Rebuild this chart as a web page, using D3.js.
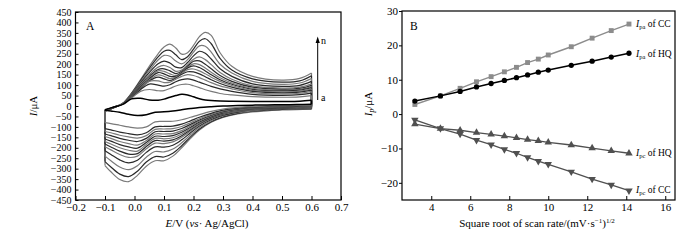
<!DOCTYPE html>
<html>
<head>
<meta charset="utf-8">
<script src="https://cdn.jsdelivr.net/npm/d3@7"></script>
<style>
  body { margin: 0; background: #fff; }
  text { font-family: "Liberation Serif", "Times New Roman", serif; fill: #000; }
</style>
</head>
<body>
<svg id="chart" width="700" height="240"></svg>
<script>
// ---------- data: panel A (cyclic voltammograms a..n) ----------
var curveNames = ["a","b","c","d","e","f","g","h","i","j","k","l","m","n"];

// potentials (V) of the forward (anodic) sweep
var anodicE = [-0.1, -0.07, -0.04, -0.01, 0.02, 0.05, 0.08, 0.1, 0.12, 0.14, 0.16, 0.18, 0.2, 0.22, 0.24, 0.26, 0.29, 0.33, 0.4, 0.5, 0.56, 0.6];
// current (uA) for each curve on the anodic sweep
var anodicI = [
  [-18, -5,  8, 34,  37,  29,  28,  33,  42,  50,  56,  53,  44,  35,  29,  26,  24,  23,  22,  22,  23,  27],
  [-19, -5, 10, 38,  70,  79,  73,  74,  84,  96, 103, 104,  97,  88,  78,  70,  60,  53,  45,  42,  44,  50],
  [-20, -5, 10, 40,  78, 105, 100,  95, 102, 116, 126, 130, 124, 114, 104,  94,  82,  70,  56,  51,  54,  62],
  [-20, -5, 10, 42,  80, 118, 120, 112, 114, 128, 142, 150, 146, 136, 124, 112,  96,  82,  64,  58,  61,  70],
  [-21, -6, 10, 44,  84, 120, 138, 130, 122, 134, 152, 164, 163, 154, 140, 126, 108,  90,  70,  63,  66,  76],
  [-21, -6, 11, 46,  88, 124, 149, 142, 131, 138, 156, 174, 177, 168, 154, 138, 118,  98,  75,  68,  71,  82],
  [-22, -6, 11, 48,  92, 130, 160, 154, 142, 142, 160, 182, 192, 184, 168, 150, 126, 104,  80,  72,  76,  88],
  [-22, -7, 11, 50,  96, 136, 168, 166, 154, 146, 162, 186, 202, 198, 182, 162, 135, 110,  85,  76,  80,  93],
  [-23, -7, 12, 52, 100, 142, 175, 178, 168, 155, 166, 190, 214, 216, 200, 178, 146, 118,  90,  80,  84,  99],
  [-23, -7, 12, 54, 105, 150, 186, 194, 184, 166, 172, 196, 224, 235, 222, 198, 160, 128,  96,  86,  90, 106],
  [-24, -8, 12, 56, 110, 160, 202, 215, 206, 186, 184, 208, 240, 262, 252, 225, 178, 142, 106,  94,  99, 118],
  [-24, -8, 12, 58, 115, 170, 220, 242, 238, 215, 202, 222, 258, 288, 286, 258, 200, 158, 118, 104, 110, 132],
  [-25, -8, 12, 60, 120, 180, 235, 262, 266, 245, 222, 236, 272, 310, 322, 298, 228, 172, 130, 114, 120, 145],
  [-25, -8, 12, 62, 125, 190, 250, 282, 296, 278, 248, 255, 290, 332, 352, 338, 255, 190, 142, 124, 132, 158]
];

// potentials (V) of the reverse (cathodic) sweep
var cathodicE = [0.6, 0.55, 0.5, 0.45, 0.4, 0.35, 0.3, 0.26, 0.22, 0.19, 0.16, 0.13, 0.1, 0.07, 0.04, 0.01, -0.02, -0.05, -0.08, -0.1];
var cathodicI = [
  [  8,   7,   6,   5,   4,   2,   0,  -3,   -7,  -12,  -18,  -24,  -28,  -30,  -42,  -46,  -40,  -30,  -24,  -20],
  [  4,   3,   2,   0,  -2,  -7, -15, -26,  -41,  -54,  -66,  -73,  -74,  -76, -100, -106, -100,  -92,  -84,  -80],
  [  2,   1,   0,  -2,  -4, -10, -20, -35,  -54,  -71,  -87,  -96,  -98, -100, -128, -138, -132, -125, -114, -108],
  [  1,   0,  -1,  -3,  -5, -12, -24, -40,  -61,  -80,  -98, -108, -110, -112, -142, -154, -148, -140, -128, -122],
  [  0,  -1,  -2,  -4,  -7, -15, -27, -44,  -67,  -88, -108, -120, -122, -123, -155, -170, -164, -155, -142, -134],
  [ -1,  -2,  -3,  -6,  -9, -18, -30, -48,  -72,  -95, -118, -132, -134, -134, -166, -187, -180, -170, -155, -146],
  [ -2,  -3,  -5,  -8, -11, -20, -33, -51,  -77, -102, -126, -142, -146, -145, -175, -202, -196, -185, -168, -158],
  [ -4,  -5,  -6,  -9, -13, -22, -35, -54,  -81, -108, -134, -152, -157, -155, -184, -216, -212, -200, -182, -170],
  [ -5,  -6,  -8, -11, -15, -24, -38, -57,  -85, -114, -142, -162, -168, -166, -194, -228, -230, -216, -196, -182],
  [ -6,  -7,  -9, -13, -17, -26, -40, -60,  -90, -120, -150, -172, -180, -178, -205, -240, -246, -232, -210, -195],
  [ -8,  -9, -11, -15, -19, -29, -44, -65,  -96, -128, -162, -188, -197, -196, -222, -260, -272, -258, -232, -214],
  [-10, -11, -13, -17, -22, -32, -48, -70, -103, -138, -176, -206, -220, -218, -245, -286, -305, -292, -262, -240],
  [-13, -14, -16, -20, -25, -35, -52, -75, -110, -148, -190, -226, -244, -242, -268, -312, -338, -326, -292, -266],
  [-16, -17, -19, -23, -28, -38, -55, -78, -115, -155, -200, -240, -262, -262, -288, -332, -362, -352, -315, -285]
];

// ---------- data: panel B (peak current vs square root of scan rate) ----------
var rootRate = [3.16, 4.47, 5.48, 6.32, 7.07, 7.75, 8.37, 8.94, 9.49, 10.0, 11.18, 12.25, 13.23, 14.14];
var ipaCC = [2.8, 5.3, 7.5, 9.4, 10.9, 12.3, 13.6, 15.0, 16.0, 17.2, 19.6, 22.1, 24.3, 26.2];
var ipaHQ = [3.8, 5.3, 6.6, 7.9, 8.9, 9.8, 10.6, 11.4, 12.2, 12.8, 14.2, 15.4, 16.6, 17.7];
var ipcHQ = [-2.9, -4.2, -4.7, -5.4, -5.9, -6.4, -6.9, -7.4, -7.8, -8.2, -9.0, -9.9, -10.7, -11.4];
var ipcCC = [-1.7, -4.2, -5.8, -7.6, -8.9, -10.3, -11.4, -12.6, -13.7, -14.6, -16.8, -18.9, -20.6, -22.3];

var svg = d3.select("#chart");

/**************************
 * panel A - CV curves
 *************************/
var xA = d3.scaleLinear().domain([-0.2, 0.7]).range([75.5, 341]);
var yA = d3.scaleLinear().domain([-450, 450]).range([200, 12]);

var cvLine = d3.line()
    .x(function(d) { return xA(d[0]); })
    .y(function(d) { return yA(d[1]); })
    .curve(d3.curveCatmullRom.alpha(0.5));

var gA = svg.append("g");

// draw outer curves first so the black one (a) ends on top
for (var k = curveNames.length - 1; k >= 0; k--) {
    var an = anodicE.map(function(e, i) { return [e, anodicI[k][i]]; });
    var ca = cathodicE.map(function(e, i) { return [e, cathodicI[k][i]]; });
    var col = (k === 0) ? "#000" : (k % 2 === 1 ? "#7a7a7a" : "#2a2a2a");
    var g = gA.append("g")
        .attr("fill", "none")
        .attr("stroke", col)
        .attr("stroke-width", k === 0 ? 1.5 : 1.2);
    g.append("path").attr("d", cvLine(an));
    g.append("path").attr("d", cvLine(ca));
    // turning points of the sweep
    g.append("path").attr("d", d3.line()([
        [xA(0.6), yA(an[an.length - 1][1])], [xA(0.6), yA(ca[0][1])]]));
    g.append("path").attr("d", d3.line()([
        [xA(-0.1), yA(ca[ca.length - 1][1])], [xA(-0.1), yA(an[0][1])]]));
}

// x axis (ticks inside)
svg.append("g")
    .attr("transform", "translate(0,200)")
    .call(d3.axisBottom(xA).tickValues(d3.range(-0.2, 0.71, 0.1))
        .tickFormat(d3.format(".1f")).tickSizeInner(-4).tickSizeOuter(0).tickPadding(3))
    .call(function(a) { a.select(".domain").remove(); a.selectAll("text").attr("font-size", 11).attr("font-family", null); });

// y axis (labels packed tightly as in the original)
svg.append("g")
    .attr("transform", "translate(75.5,0)")
    .call(d3.axisLeft(yA).tickValues(d3.range(-450, 451, 50))
        .tickSizeInner(-3).tickSizeOuter(0).tickPadding(4))
    .call(function(a) { a.select(".domain").remove(); a.selectAll("text").attr("font-size", 10).attr("font-family", null); });

svg.append("rect")
    .attr("x", 75.5).attr("y", 12).attr("width", 341 - 75.5).attr("height", 188)
    .attr("fill", "none").attr("stroke", "#000").attr("stroke-width", 1.2);

svg.append("text").attr("x", 86).attr("y", 29.5).attr("font-size", 11.5).text("A");

// arrow a -> n
svg.append("line").attr("x1", 317.7).attr("x2", 317.7).attr("y1", 100).attr("y2", 42)
    .attr("stroke", "#000").attr("stroke-width", 1);
svg.append("path").attr("d", "M317.7,36.5L315.6,43L319.8,43Z").attr("fill", "#000");
svg.append("text").attr("x", 321).attr("y", 44).attr("font-size", 10).text("n");
svg.append("text").attr("x", 321).attr("y", 100.5).attr("font-size", 10).text("a");

// axis titles
var yt = svg.append("text").attr("transform", "translate(37,106) rotate(-90)")
    .attr("text-anchor", "middle").attr("font-size", 11);
yt.append("tspan").attr("font-style", "italic").text("I");
yt.append("tspan").text("/μA");

var xt = svg.append("text").attr("x", 207).attr("y", 227)
    .attr("text-anchor", "middle").attr("font-size", 11);
xt.append("tspan").attr("font-style", "italic").text("E");
xt.append("tspan").text("/V (");
xt.append("tspan").attr("font-style", "italic").text("vs");
xt.append("tspan").text("· Ag/AgCl)");

/**************************
 * panel B - peak currents
 *************************/
var xB = d3.scaleLinear().domain([2.5, 16.5]).range([402, 675]);
var yB = d3.scaleLinear().domain([-25, 30]).range([200, 11]);

svg.append("g")
    .attr("transform", "translate(0,200)")
    .call(d3.axisBottom(xB).tickValues(d3.range(4, 17, 2))
        .tickSizeInner(-4).tickSizeOuter(0).tickPadding(3.5))
    .call(function(a) { a.select(".domain").remove(); a.selectAll("text").attr("font-size", 11).attr("font-family", null); });

svg.append("g")
    .attr("transform", "translate(402,0)")
    .call(d3.axisLeft(yB).tickValues(d3.range(-20, 31, 10))
        .tickSizeInner(3).tickSizeOuter(0).tickPadding(1))
    .call(function(a) { a.select(".domain").remove(); a.selectAll("text").attr("font-size", 11).attr("font-family", null); });

var series = [
    { values: ipaCC, color: "#8c8c8c", symbol: d3.symbolSquare,   size: 24, rot: 0,   width: 1.4 },
    { values: ipaHQ, color: "#000",    symbol: d3.symbolCircle,   size: 22, rot: 0,   width: 1.5 },
    { values: ipcHQ, color: "#505050", symbol: d3.symbolTriangle, size: 24, rot: 0,   width: 1.3 },
    { values: ipcCC, color: "#505050", symbol: d3.symbolTriangle, size: 24, rot: 180, width: 1.3 }
];

var ptLine = d3.line()
    .x(function(d) { return xB(d[0]); })
    .y(function(d) { return yB(d[1]); });

series.forEach(function(s) {
    var pts = rootRate.map(function(x, i) { return [x, s.values[i]]; });
    svg.append("path").attr("d", ptLine(pts))
        .attr("fill", "none").attr("stroke", s.color).attr("stroke-width", s.width);
    svg.append("g").selectAll("path")
        .data(pts).enter().append("path")
        .attr("d", d3.symbol().type(s.symbol).size(s.size))
        .attr("transform", function(d) { return "translate(" + xB(d[0]) + "," + yB(d[1]) + ") rotate(" + s.rot + ")"; })
        .attr("fill", s.color);
});

svg.append("rect")
    .attr("x", 402).attr("y", 11).attr("width", 273).attr("height", 189)
    .attr("fill", "none").attr("stroke", "#000").attr("stroke-width", 1.2);

svg.append("text").attr("x", 410).attr("y", 29.5).attr("font-size", 11.5).text("B");

// series labels
function seriesLabel(x, y, sub, name) {
    var t = svg.append("text").attr("x", x).attr("y", y).attr("font-size", 9.5);
    t.append("tspan").attr("font-style", "italic").text("I");
    t.append("tspan").attr("font-size", 6.5).attr("dy", 2).text(sub);
    t.append("tspan").attr("dy", -2).text(" of " + name);
}
seriesLabel(636, 27, "pa", "CC");
seriesLabel(636, 56.5, "pa", "HQ");
seriesLabel(636, 156, "pc", "HQ");
seriesLabel(636, 193, "pc", "CC");

var yt2 = svg.append("text").attr("transform", "translate(372,104) rotate(-90)")
    .attr("text-anchor", "middle").attr("font-size", 11);
yt2.append("tspan").attr("font-style", "italic").text("I");
yt2.append("tspan").attr("font-style", "italic").attr("font-size", 7.5).attr("dy", 2).text("p");
yt2.append("tspan").attr("dy", -2).text("/μA");

var xt2 = svg.append("text").attr("x", 537).attr("y", 227)
    .attr("text-anchor", "middle").attr("font-size", 11);
xt2.append("tspan").text("Square root of scan rate/(mV·s");
xt2.append("tspan").attr("font-size", 7).attr("dy", -4).text("−1");
xt2.append("tspan").attr("dy", 4).text(")");
xt2.append("tspan").attr("font-size", 7).attr("dy", -4).text("1/2");
</script>
</body>
</html>
